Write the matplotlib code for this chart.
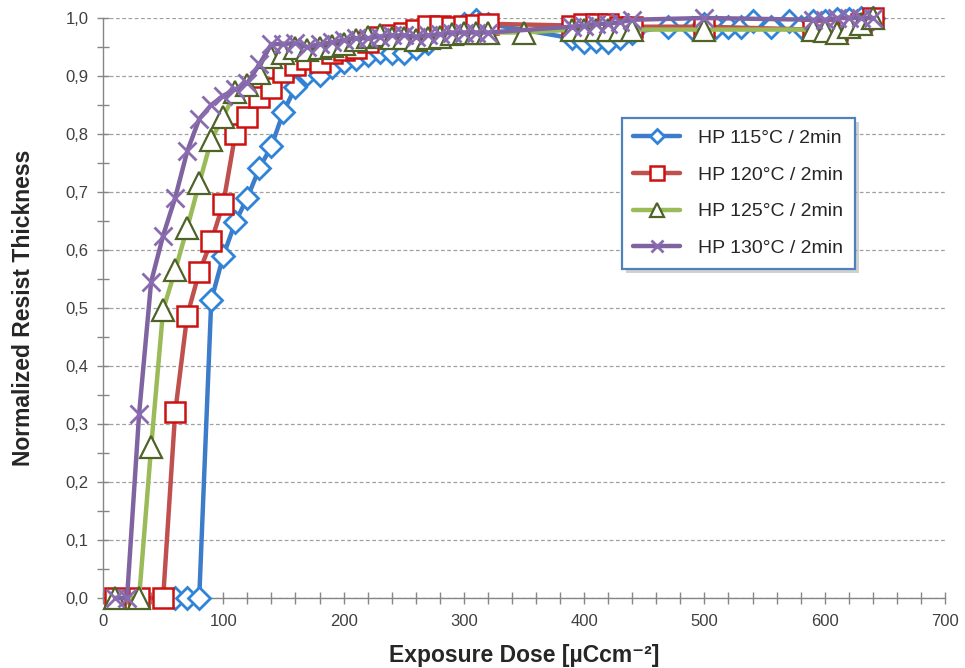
import matplotlib
matplotlib.use("Agg")
import matplotlib.pyplot as plt
from matplotlib.ticker import MultipleLocator, FuncFormatter
import matplotlib.patheffects as pe

# ---------------- data ----------------
x_115 = [60, 70, 80, 90, 100, 110, 120, 130, 140, 150, 160, 170, 180, 190, 200, 210, 220, 230,
         240, 250, 260, 270, 280, 290, 300, 310, 320, 390, 400, 410, 420, 430, 440, 470, 490,
         500, 510, 520, 530, 540, 555, 570, 580, 590, 600, 610, 620, 630, 640]
y_115 = [0, 0, 0, 0.513, 0.59, 0.648, 0.69, 0.741, 0.779, 0.838, 0.881, 0.903, 0.902, 0.916,
         0.924, 0.93, 0.936, 0.941, 0.94, 0.94, 0.948, 0.957, 0.967, 0.979, 0.99, 0.997, 0.99,
         0.965, 0.958, 0.96, 0.958, 0.965, 0.975, 0.985, 0.983, 0.99, 0.985, 0.985, 0.985,
         0.995, 0.985, 0.995, 0.985, 0.995, 0.995, 0.998, 0.998, 1.0, 1.0]

x_120 = [10, 30, 50, 60, 70, 80, 90, 100, 110, 120, 130, 140, 150, 160, 170, 180, 190, 200,
         210, 220, 230, 240, 250, 260, 270, 280, 290, 300, 310, 320, 390, 400, 410, 420, 430,
         440, 500, 590, 600, 610, 620, 630, 640]
y_120 = [0, 0, 0, 0.32, 0.487, 0.562, 0.615, 0.68, 0.80, 0.83, 0.864, 0.879, 0.907, 0.919,
         0.93, 0.925, 0.94, 0.945, 0.948, 0.958, 0.968, 0.97, 0.975, 0.979, 0.987, 0.987,
         0.984, 0.987, 0.988, 0.99, 0.987, 0.99, 0.99, 0.99, 0.985, 0.985, 0.985, 0.98,
         0.978, 0.98, 0.985, 0.99, 1.0]

x_125 = [10, 30, 40, 50, 60, 70, 80, 90, 100, 110, 120, 130, 140, 150, 160, 170, 180, 190,
         200, 210, 220, 230, 240, 250, 260, 270, 280, 290, 300, 310, 320, 350, 390, 400, 410,
         420, 430, 440, 500, 590, 600, 610, 620, 630, 640]
y_125 = [0, 0, 0.26, 0.497, 0.565, 0.638, 0.715, 0.79, 0.83, 0.872, 0.885, 0.905, 0.932,
         0.94, 0.948, 0.945, 0.948, 0.952, 0.955, 0.962, 0.968, 0.97, 0.966, 0.965, 0.962,
         0.965, 0.968, 0.972, 0.975, 0.975, 0.975, 0.975, 0.98, 0.98, 0.98, 0.98, 0.98,
         0.98, 0.98, 0.98, 0.978, 0.975, 0.985, 0.99, 1.0]

x_130 = [10, 20, 30, 40, 50, 60, 70, 80, 90, 100, 110, 120, 130, 140, 150, 160, 170, 180,
         190, 200, 210, 220, 230, 240, 250, 260, 270, 280, 290, 300, 310, 320, 390, 400, 410,
         420, 430, 440, 500, 590, 600, 610, 620, 630, 640]
y_130 = [0, 0, 0.317, 0.545, 0.625, 0.69, 0.77, 0.826, 0.85, 0.866, 0.877, 0.888, 0.92,
         0.955, 0.955, 0.957, 0.95, 0.955, 0.958, 0.962, 0.965, 0.965, 0.968, 0.97, 0.97,
         0.968, 0.97, 0.972, 0.975, 0.975, 0.975, 0.975, 0.985, 0.987, 0.99, 0.99, 0.993,
         0.997, 1.0, 0.997, 0.997, 1.0, 1.0, 1.0, 1.0]

labels = ["HP 115°C / 2min", "HP 120°C / 2min", "HP 125°C / 2min", "HP 130°C / 2min"]
x_ticks = [0, 100, 200, 300, 400, 500, 600, 700]
y_ticks = [0.0, 0.1, 0.2, 0.3, 0.4, 0.5, 0.6, 0.7, 0.8, 0.9, 1.0]

# ---------------- styling ----------------
fam = ["Liberation Sans", "DejaVu Sans"]
plt.rcParams["font.family"] = fam

fig = plt.figure(figsize=(9.65, 6.68), dpi=100)
ax = fig.add_axes([103 / 965, 1 - 598 / 668, 842 / 965, 580 / 668])

series = [
    (x_115, y_115, "#3D7CC9", "#2F84D8", "D", 11.5, 2.0),
    (x_120, y_120, "#C0504D", "#CC1111", "s", 15.0, 1.8),
    (x_125, y_125, "#9BBB59", "#4F6228", "^", 15.5, 1.6),
    (x_130, y_130, "#8064A2", "#8A6BB0", "x", 13.0, 2.0),
]

for (xs, ys, lc, mc, mk, ms, mew), lab in zip(series, labels):
    kw = dict(color=lc, lw=3.2, marker=mk, ms=ms, mec=mc, mew=mew, label=lab,
              solid_capstyle="round", zorder=3, clip_on=False)
    if mk != "x":
        kw["mfc"] = "white"
    ax.plot(xs, ys, **kw)

ax.set_xlim(0, 700)
ax.set_ylim(0, 1.0)
ax.set_xticks(x_ticks)
ax.set_yticks(y_ticks)
ax.xaxis.set_minor_locator(MultipleLocator(20))
ax.yaxis.set_minor_locator(MultipleLocator(0.05))
ax.yaxis.set_major_formatter(FuncFormatter(lambda v, p: f"{v:.1f}".replace(".", ",")))

ax.grid(axis="y", which="major", color="#A0A0A0", linestyle=(0, (3, 2)), linewidth=0.9, zorder=0)
ax.set_axisbelow(True)

for s in ["top", "right"]:
    ax.spines[s].set_visible(False)
for s in ["left", "bottom"]:
    ax.spines[s].set_color("#868686")
    ax.spines[s].set_linewidth(1.0)

ax.tick_params(axis="both", which="both", direction="inout", color="#868686", width=1.0)
ax.tick_params(axis="both", which="major", length=9, labelsize=12, labelcolor="#404040")
ax.tick_params(axis="both", which="minor", length=9)
ax.tick_params(axis="x", pad=7)
ax.tick_params(axis="y", pad=6)

ax.set_xlabel("Exposure Dose [µCcm⁻²]", fontsize=16.5, fontweight="bold",
              family=fam, color="#262626", labelpad=11)
ax.set_ylabel("Normalized Resist Thickness", fontsize=16.5, fontweight="bold",
              family=fam, color="#262626", labelpad=22)

leg = ax.legend(loc="upper left", bbox_to_anchor=(0.616, 0.828), frameon=True,
                fancybox=False, shadow=False, fontsize=14, handlelength=2.4,
                labelspacing=0.98, borderpad=0.6, handletextpad=0.95,
                markerscale=0.65, labelcolor="#262626", borderaxespad=0)
frame = leg.get_frame()
frame.set_edgecolor("#4F81BD")
frame.set_linewidth(1.6)
frame.set_facecolor("white")
frame.set_alpha(1.0)
frame.set_path_effects([pe.SimplePatchShadow(offset=(3, -3), shadow_rgbFace="#999999", alpha=0.45),
                        pe.Normal()])

fig.savefig("out.png", dpi=100)
